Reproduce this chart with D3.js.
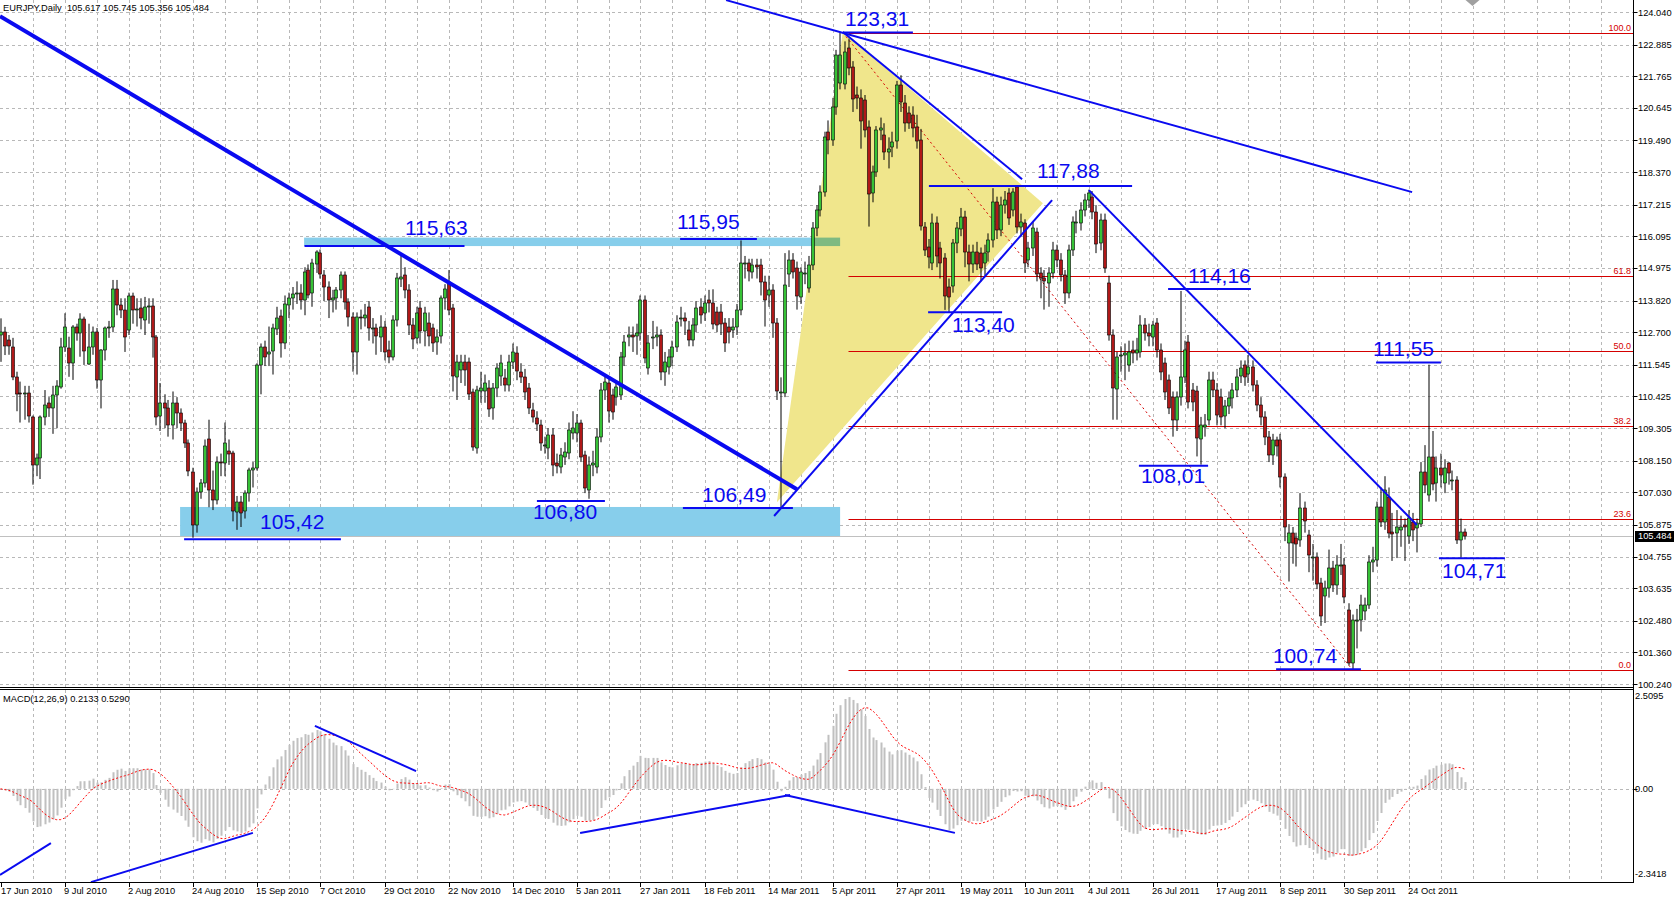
<!DOCTYPE html>
<html><head><meta charset="utf-8">
<script src="https://cdn.jsdelivr.net/npm/d3@7"></script>
<style>
body{margin:0;background:#fff;overflow:hidden}
svg{display:block}
text{font-family:"Liberation Sans",Arial,sans-serif}
</style></head>
<body><svg id="c" width="1674" height="898"></svg>
<script>
// ---------------- DATA ----------------
const headerText = "EURJPY,Daily  105.617 105.745 105.356 105.484";
const macdText = "MACD(12,26,9) 0.2133 0.5290";
const lastPrice = 105.484;

const opens = [
112.60,112.72,112.42,112.19,111.12,110.53,110.50,110.53,109.71,108.00,
108.25,109.71,110.18,110.00,110.47,110.79,112.19,112.13,111.60,112.89,
112.66,113.15,111.60,112.19,112.72,111.01,112.07,112.84,112.89,114.22,
113.66,113.48,112.78,113.98,113.51,113.54,113.15,113.60,113.63,112.54,
109.71,110.18,110.00,109.41,110.18,109.83,109.47,108.76,107.76,105.87,
107.03,107.35,108.90,107.11,106.76,108.11,108.06,108.50,108.41,106.35,
106.70,106.35,106.99,107.82,107.88,111.54,112.19,111.95,112.01,112.84,
113.27,112.33,113.66,113.90,114.05,114.08,113.84,114.90,114.08,115.14,
115.49,114.73,114.31,113.84,113.90,114.19,114.73,113.78,113.25,112.01,
113.25,113.19,113.60,112.84,112.84,112.54,112.90,112.07,111.83,113.13,
114.61,114.73,114.19,112.96,112.48,113.55,112.72,113.01,112.84,112.37,
112.54,113.90,114.49,113.55,111.13,111.36,111.66,111.66,110.59,108.59,
110.59,110.59,110.71,110.00,110.71,111.13,111.07,110.83,111.66,111.95,
111.30,111.13,110.71,109.95,109.65,109.42,108.71,108.59,109.06,108.06,
107.94,108.29,108.41,109.12,109.12,109.48,108.35,107.11,108.00,107.94,
109.00,110.65,110.89,110.48,110.42,110.48,111.83,112.54,112.60,112.54,
112.66,113.84,111.42,112.54,112.54,112.60,111.30,111.48,111.83,112.19,
113.19,113.19,112.78,112.42,112.96,113.60,113.37,113.84,113.72,113.43,
113.43,113.01,112.90,112.78,112.90,113.49,115.14,115.14,114.84,115.08,
115.08,114.49,114.02,114.19,113.01,110.59,110.54,114.78,115.26,114.96,
113.96,114.78,114.25,115.08,116.38,117.05,117.68,119.80,119.50,120.68,
121.51,121.51,122.75,122.10,121.10,120.98,120.92,119.98,117.62,118.38,
119.86,119.68,119.09,119.27,119.45,121.45,120.80,120.45,120.39,119.98,
119.50,116.44,115.73,115.14,116.56,115.67,115.32,114.31,114.31,115.85,
116.38,116.79,115.55,115.14,115.55,115.49,115.14,115.55,115.97,117.32,
116.32,117.20,117.62,117.03,117.85,116.44,116.56,115.26,115.67,116.26,
114.79,114.61,114.43,114.79,115.61,115.26,114.73,114.08,115.61,116.56,
116.56,117.03,117.38,117.50,116.97,115.85,116.67,114.43,112.60,110.71,
111.89,111.89,111.54,112.07,111.95,112.01,112.96,112.66,112.54,113.01,
112.07,111.60,111.01,110.42,109.59,110.42,111.13,112.37,110.66,110.60,
108.94,109.36,109.59,111.01,110.66,110.42,109.71,110.07,110.36,110.66,
111.13,111.54,111.24,111.48,110.83,110.12,109.71,109.00,108.35,108.88,
108.88,107.58,105.22,105.58,105.40,105.34,106.46,105.52,104.75,104.75,
103.81,103.34,103.63,104.34,103.75,104.46,104.46,102.86,100.97,102.51,
102.51,102.81,103.04,104.57,104.63,106.52,105.99,106.87,105.64,105.58,
105.69,105.87,105.46,105.99,105.75,105.93,107.76,106.93,108.29,107.35,
107.88,107.35,108.06,107.47,107.47,105.34,105.617];

const highs = [
113.19,112.89,112.60,112.50,111.30,110.95,110.80,110.80,109.75,108.40,
109.75,110.65,110.40,110.80,111.00,112.50,113.37,112.54,112.95,113.00,
113.37,113.25,113.00,112.90,112.85,112.10,112.90,113.10,114.55,114.55,
113.90,113.90,114.10,114.10,113.90,113.90,113.95,113.90,113.90,112.60,
110.90,110.50,110.30,110.60,110.40,110.00,109.60,108.90,107.90,107.20,
107.50,108.90,109.60,107.80,108.30,108.40,109.50,108.90,108.50,106.90,
106.90,107.10,107.90,108.10,111.60,112.30,112.40,112.90,113.00,113.60,
113.50,114.00,114.10,114.30,114.50,114.40,115.00,115.10,115.30,115.60,
115.63,114.90,114.50,114.20,114.30,114.85,114.85,113.90,113.40,113.40,
113.50,113.70,113.80,113.20,113.00,113.30,113.10,112.40,113.30,114.80,
115.40,115.00,114.40,113.20,113.60,113.80,113.60,113.40,113.00,112.80,
114.00,114.40,114.90,113.70,111.90,111.90,111.90,111.80,110.70,110.80,
111.30,111.20,111.00,110.90,111.60,111.90,111.40,111.90,112.30,112.20,
111.60,111.40,110.90,110.20,109.90,109.60,109.00,109.30,109.30,108.40,
108.60,108.80,109.50,109.90,109.80,109.60,108.50,108.30,108.50,109.30,
110.90,111.20,111.10,110.70,111.00,112.00,112.60,112.90,112.90,113.00,
114.00,114.00,112.60,113.10,112.90,112.80,112.00,112.10,112.40,113.30,
113.60,113.40,113.10,113.20,113.80,113.90,114.00,114.20,114.22,113.60,
113.70,113.20,113.20,113.20,113.70,115.95,115.40,115.30,115.30,115.30,
115.30,114.70,114.70,114.40,113.20,111.10,115.50,115.60,115.50,115.20,
115.00,115.20,115.40,116.60,117.20,117.90,119.80,120.20,121.00,122.70,
123.31,123.00,123.10,122.30,121.40,121.30,121.10,120.20,118.60,120.00,
120.30,120.10,119.60,119.80,121.60,121.80,121.10,120.70,120.70,120.40,
119.90,116.60,116.00,116.90,116.80,115.90,115.50,114.60,116.00,116.60,
117.10,117.00,115.80,115.80,115.90,115.70,115.80,116.20,117.80,117.50,
117.50,117.70,117.80,117.80,117.88,116.90,116.70,115.90,116.60,116.40,
115.00,114.90,115.00,115.90,115.80,115.50,114.90,115.80,116.80,117.00,
117.30,117.60,117.75,117.70,117.20,116.90,116.90,114.70,112.80,112.00,
112.20,112.30,112.40,112.40,112.50,113.30,113.20,113.00,113.10,113.20,
112.30,111.80,111.20,110.60,110.60,114.16,112.40,112.60,110.90,110.80,
109.70,109.80,111.30,111.30,110.90,110.70,110.30,110.60,110.90,111.40,
111.70,111.70,111.89,111.70,111.00,110.40,109.90,109.20,109.10,109.00,
109.10,107.70,105.90,105.80,105.60,107.00,106.70,105.70,105.20,104.90,
104.00,103.90,105.00,104.60,104.80,105.20,104.70,103.10,102.70,102.90,
103.40,103.30,104.80,105.10,106.70,107.20,107.60,107.20,106.30,106.40,
106.20,106.10,106.40,106.30,106.10,108.10,108.70,111.55,109.20,108.30,
108.40,108.20,108.10,107.80,107.60,106.10,105.745];

const lows = [
111.65,111.89,111.90,111.00,109.90,109.50,109.60,109.50,107.30,107.60,
107.50,109.40,109.70,109.10,109.30,110.70,112.00,111.12,111.01,112.40,
111.83,111.54,111.54,111.90,110.70,110.00,111.70,112.50,112.70,113.30,
113.20,112.00,112.60,113.00,112.90,112.80,112.60,113.00,111.80,109.40,
109.20,109.30,109.00,108.90,109.30,109.20,108.60,107.60,105.42,105.60,
106.80,107.20,106.50,106.40,106.60,107.60,107.60,108.00,106.00,105.70,
105.80,106.10,106.70,107.20,107.80,110.50,111.50,111.50,111.20,112.60,
111.80,112.10,113.20,113.50,113.70,113.50,113.30,113.90,113.60,114.80,
114.60,113.80,113.20,113.40,113.50,113.90,113.50,112.90,111.30,111.20,
112.80,112.90,112.40,112.30,111.90,112.00,111.70,111.60,111.70,112.90,
114.30,113.90,112.60,112.10,112.30,112.30,112.20,112.20,112.00,111.90,
112.30,113.50,113.30,110.60,110.30,110.90,110.80,110.30,108.50,108.40,
110.20,110.20,109.70,109.60,110.40,110.80,110.60,110.60,111.40,111.00,
110.90,110.30,109.80,109.50,109.20,108.50,108.40,108.20,107.60,107.70,
107.70,108.00,108.20,108.90,108.80,108.10,107.00,106.80,107.60,107.70,
108.80,110.30,109.50,109.60,110.10,110.30,111.50,112.20,112.00,111.90,
112.40,111.60,111.20,112.10,112.20,111.00,110.80,111.20,111.50,112.00,
112.90,112.60,112.20,112.20,112.70,113.00,113.10,113.40,112.80,112.70,
112.60,112.00,112.30,112.50,112.60,113.30,114.60,114.50,114.60,114.60,
114.00,112.90,113.60,112.50,110.30,106.49,110.40,114.30,114.60,113.50,
113.70,114.40,114.10,114.90,116.10,116.80,117.50,119.00,119.30,120.40,
121.30,121.30,121.80,120.50,120.60,119.20,119.60,116.44,117.30,118.20,
119.50,118.80,118.50,118.90,119.20,120.50,119.80,119.90,119.60,119.20,
116.30,115.40,114.96,114.90,115.00,114.60,113.49,113.40,114.10,115.50,
116.10,115.00,114.50,114.80,114.90,114.50,114.70,115.20,115.70,116.00,
116.10,116.90,116.50,116.80,116.20,116.10,114.80,115.00,115.40,114.50,
113.90,113.50,113.60,114.60,115.00,114.50,113.70,113.90,115.40,116.20,
116.30,116.80,117.10,116.70,115.50,115.60,114.80,112.40,109.60,109.60,
111.30,111.00,111.30,111.60,111.70,111.80,112.40,112.20,112.20,111.80,
111.00,110.30,109.80,109.00,109.20,110.10,110.90,110.00,109.90,108.30,
108.01,109.00,109.40,110.40,109.40,109.40,109.30,109.80,110.00,110.40,
110.90,110.80,110.90,110.60,109.90,109.40,108.70,108.10,108.00,108.30,
107.20,105.30,103.87,104.50,104.40,105.10,105.60,104.20,103.90,103.60,
102.30,102.40,103.30,103.50,103.40,104.10,103.10,100.90,100.74,101.50,
102.10,102.50,102.90,104.20,104.40,105.80,105.70,105.40,104.60,104.70,
105.10,104.60,105.20,105.30,104.90,105.80,107.00,106.70,107.10,106.70,
107.20,107.00,107.30,107.10,105.20,104.71,105.356];

const closes = [
112.72,112.24,112.19,111.12,110.53,110.50,110.53,109.71,108.00,108.25,
109.71,110.12,110.00,110.47,110.80,112.19,112.89,111.60,112.89,112.66,
113.15,112.01,112.19,112.72,111.01,112.07,112.84,112.89,114.22,113.66,
113.48,112.54,113.98,113.48,113.51,113.19,113.60,113.63,112.54,109.71,
110.18,110.00,109.41,110.18,109.83,109.47,108.76,107.76,105.87,107.03,
107.35,108.67,107.11,106.76,108.11,108.06,108.76,108.41,106.35,106.70,
106.32,106.99,107.82,107.88,111.54,112.19,111.83,112.01,112.84,113.22,
112.30,113.70,113.90,114.05,114.08,113.84,114.84,114.02,115.14,115.55,
114.73,114.31,113.84,113.90,114.19,114.73,113.78,113.25,112.01,113.25,
113.23,113.31,112.84,112.84,112.54,112.90,112.01,111.83,113.13,114.61,
114.67,114.19,112.96,112.48,113.37,112.72,113.37,112.54,112.31,112.54,
113.90,114.22,113.49,111.13,111.66,111.66,111.36,110.54,108.65,110.65,
110.71,110.89,109.95,110.71,111.42,111.60,110.83,111.66,112.01,111.30,
111.13,110.59,110.00,109.71,109.42,108.77,108.71,109.06,108.00,107.94,
108.35,108.47,109.24,109.30,109.48,108.29,107.17,108.00,108.06,109.00,
110.65,110.95,109.89,109.89,110.77,111.83,112.37,112.60,112.54,112.66,
113.84,111.78,112.31,112.54,112.60,111.30,111.66,111.83,112.19,113.07,
113.19,113.07,112.42,112.96,113.55,113.31,113.72,113.72,112.96,112.96,
113.01,112.31,112.72,112.90,113.49,115.14,115.14,114.84,115.08,115.02,
114.49,113.84,114.19,113.01,110.59,110.59,114.37,115.26,114.84,113.96,
114.84,114.78,115.08,116.38,117.03,117.68,119.62,119.50,120.68,122.51,
122.51,122.63,122.04,120.98,120.98,120.15,119.86,117.62,118.38,119.86,
119.92,119.09,119.20,119.45,121.45,120.86,120.09,120.09,119.92,119.50,
116.44,115.61,115.38,116.56,115.38,115.14,113.96,113.96,115.85,116.38,
116.79,115.55,115.14,115.55,115.14,114.96,115.49,115.97,117.32,116.32,
117.20,117.38,116.73,117.68,116.44,116.61,115.14,115.67,116.38,114.79,
114.61,114.50,114.79,115.61,115.26,114.73,114.08,115.61,116.61,116.61,
117.03,117.38,117.62,116.97,115.85,116.67,114.96,112.60,110.71,111.83,
111.89,111.95,112.01,111.95,112.07,112.96,112.66,112.54,112.96,112.07,
111.30,110.59,110.01,109.59,110.42,111.13,112.07,110.24,110.24,108.94,
109.42,109.42,111.01,110.66,109.77,109.71,110.07,110.36,110.66,111.13,
111.42,111.13,111.48,110.83,110.12,109.71,109.00,108.35,108.88,108.65,
107.58,105.81,105.58,105.22,105.17,106.46,105.99,104.81,104.75,103.81,
102.63,103.63,104.34,103.75,104.46,104.46,103.34,100.97,102.51,102.51,
103.04,103.04,104.57,104.63,106.52,105.99,107.11,105.58,105.58,105.81,
105.81,105.81,106.11,105.69,105.93,107.76,107.29,108.29,107.35,107.88,
107.64,107.88,107.70,107.47,105.34,105.64,105.484];

// date axis labels: [bar index, text]
const dateTicks = [[0,"17 Jun 2010"],[16,"9 Jul 2010"],[32,"2 Aug 2010"],[48,"24 Aug 2010"],
 [64,"15 Sep 2010"],[80,"7 Oct 2010"],[96,"29 Oct 2010"],[112,"22 Nov 2010"],[128,"14 Dec 2010"],
 [144,"5 Jan 2011"],[160,"27 Jan 2011"],[176,"18 Feb 2011"],[192,"14 Mar 2011"],[208,"5 Apr 2011"],
 [224,"27 Apr 2011"],[240,"19 May 2011"],[256,"10 Jun 2011"],[272,"4 Jul 2011"],[288,"26 Jul 2011"],
 [304,"17 Aug 2011"],[320,"8 Sep 2011"],[336,"30 Sep 2011"],[352,"24 Oct 2011"]];

const priceTicks = [124.040,122.885,121.765,120.645,119.490,118.370,117.215,116.095,114.975,113.820,
 112.700,111.545,110.425,109.305,108.150,107.030,105.875,104.755,103.635,102.480,101.360,100.240];
const macdTicks = [2.5095,0.00,-2.3418];

const fibLevels = [100.0,61.8,50.0,38.2,23.6,0.0];
const fibHigh = [210.6,123.31], fibLow = [338,100.74];

// trend lines in (bar, price): [b1,p1,b2,p2,width]
const trendLines = [
 [-0.125,123.89,199.1,107.14,4],
 [193.4,106.19,262.9,117.38,2],
 [210.6,123.33,255.4,118.12,2],
 [181.4,124.46,352.9,117.66,2],
 [272.1,117.73,354.1,105.87,2]];

// horizontal labelled levels: [text, bar1, bar2, price, labelBar, labelPrice]
const levelMarks = [
 ["123,31",210.6,228.1,123.31,211.1,123.54],
 ["117,88",232.1,282.9,117.88,259.1,118.16],
 ["115,63",76.0,116.0,115.75,101.1,116.14],
 ["115,95",169.9,189.1,116.00,169.1,116.35],
 ["105,42",45.9,85.1,105.37,64.9,105.73],
 ["106,80",134.1,151.1,106.72,133.1,106.08],
 ["106,49",170.6,198.1,106.47,175.4,106.68],
 ["113,40",231.9,250.4,113.41,237.9,112.70],
 ["114,16",291.9,312.6,114.23,296.9,114.44],
 ["108,01",284.6,301.9,107.97,285.1,107.36],
 ["111,55",343.9,360.1,111.63,343.1,111.85],
 ["104,71",359.6,376.1,104.69,360.4,103.99],
 ["100,74",318.9,340.1,100.76,318.1,100.98]];

// zones [bar1, bar2, priceTop, priceBottom]
const zones = [[75.9,209.9,116.05,115.75],[44.9,209.9,106.51,105.45]];
const triangle = [[194.1,106.68],[210.6,123.36],[260.6,117.27]];

// MACD panel trend lines [b1,v1,b2,v2]
const macdLines = [[-0.125,-2.19,12.6,-1.38],[22.6,-2.37,63.1,-1.12],[78.6,1.60,103.9,0.45],
 [144.9,-1.12,197.4,-0.16],[196.1,-0.16,238.6,-1.12]];

// ---------------- DRAW ----------------
const W=1674, H=898, axisX=1633.5;
const svg = d3.select("#c");
const x = d3.scaleLinear().domain([0,408]).range([0.5,1632.5]);
const y = d3.scaleLinear().domain([100.24,124.04]).range([684,12]);
const yM = d3.scaleLinear().domain([-2.3418,2.5095]).range([881,690]);
const BLUE="#0a0af0", GRID="#b8b8b8", FIB="#d40000";

const defs = svg.append("defs");
defs.append("clipPath").attr("id","cm").append("rect").attr("x",0).attr("y",0).attr("width",1633).attr("height",687);
defs.append("clipPath").attr("id","cd").append("rect").attr("x",0).attr("y",690).attr("width",1633).attr("height",192);

const main = svg.append("g").attr("clip-path","url(#cm)");
const mac = svg.append("g").attr("clip-path","url(#cd)");

// grid
const vgrid = d3.range(8,409,8);
[ [main,0,687], [mac,690,882] ].forEach(([g,a,b])=>{
  g.selectAll(null).data(vgrid).enter().append("line")
   .attr("x1",d=>Math.round(x(d))+0.5).attr("x2",d=>Math.round(x(d))+0.5)
   .attr("y1",a).attr("y2",b).attr("stroke",GRID).attr("stroke-dasharray","3,3").attr("stroke-width",1);
});
main.selectAll(null).data(priceTicks).enter().append("line")
  .attr("x1",0).attr("x2",1633).attr("y1",d=>Math.round(y(d))+0.5).attr("y2",d=>Math.round(y(d))+0.5)
  .attr("stroke",GRID).attr("stroke-dasharray","3,3");
mac.append("line").attr("x1",0).attr("x2",1633).attr("y1",Math.round(yM(0))+0.5).attr("y2",Math.round(yM(0))+0.5)
  .attr("stroke",GRID).attr("stroke-dasharray","3,3");

// background objects
const bg = main.append("g").style("isolation","isolate");
bg.append("path").attr("d",d3.line().x(d=>x(d[0])).y(d=>y(d[1]))(triangle)+"Z").attr("fill","#F0E68C");
bg.selectAll(null).data(zones).enter().append("rect")
  .attr("x",d=>x(d[0])).attr("width",d=>x(d[1])-x(d[0]))
  .attr("y",d=>y(d[2])).attr("height",d=>y(d[3])-y(d[2]))
  .attr("fill","#87CEEB").style("mix-blend-mode","multiply");

// fib levels
const fibP = l => fibLow[1] + (fibHigh[1]-fibLow[1])*l/100;
main.selectAll(null).data(fibLevels).enter().append("line")
  .attr("x1",x(212)).attr("x2",1633)
  .attr("y1",d=>Math.round(y(fibP(d)))+0.5).attr("y2",d=>Math.round(y(fibP(d)))+0.5)
  .attr("stroke",FIB).attr("stroke-width",1);
main.append("line").attr("x1",x(fibHigh[0])).attr("y1",y(fibHigh[1])).attr("x2",x(fibLow[0])).attr("y2",y(fibLow[1]))
  .attr("stroke",FIB).attr("stroke-width",1).attr("stroke-dasharray","2,3");
main.selectAll(null).data(fibLevels).enter().append("text")
  .attr("x",1631).attr("y",d=>Math.round(y(fibP(d)))-2).attr("text-anchor","end")
  .attr("font-size","9px").attr("fill",FIB).text(d=>d.toFixed(1));

// last price line
main.append("line").attr("x1",0).attr("x2",1633).attr("y1",Math.round(y(lastPrice))+0.5).attr("y2",Math.round(y(lastPrice))+0.5)
  .attr("stroke","#c0c0c0");

// candles
const idx = d3.range(closes.length);
const cg = main.append("g");
cg.selectAll(null).data(idx).enter().append("line")
  .attr("x1",i=>Math.round(x(i))).attr("x2",i=>Math.round(x(i)))
  .attr("y1",i=>y(highs[i])).attr("y2",i=>y(lows[i]))
  .attr("stroke","#000").attr("stroke-width",1);
cg.selectAll(null).data(idx).enter().append("rect")
  .attr("x",i=>Math.round(x(i))-1.5).attr("width",3)
  .attr("y",i=>Math.round(y(Math.max(opens[i],closes[i]))))
  .attr("height",i=>Math.max(1,Math.round(Math.abs(y(opens[i])-y(closes[i])))))
  .attr("fill",i=>closes[i]>=opens[i]?"#36c236":"#b01818")
  .attr("stroke","#000").attr("stroke-width",0.6);

// trend lines
main.selectAll(null).data(trendLines).enter().append("line")
  .attr("x1",d=>x(d[0])).attr("y1",d=>y(d[1])).attr("x2",d=>x(d[2])).attr("y2",d=>y(d[3]))
  .attr("stroke",BLUE).attr("stroke-width",d=>d[4]);
main.selectAll(null).data(levelMarks).enter().append("line")
  .attr("x1",d=>x(d[1])).attr("x2",d=>x(d[2])).attr("y1",d=>y(d[3])).attr("y2",d=>y(d[3]))
  .attr("stroke",BLUE).attr("stroke-width",2);
main.selectAll(null).data(levelMarks).enter().append("text")
  .attr("x",d=>x(d[4])).attr("y",d=>y(d[5])).attr("font-size","21px").attr("fill",BLUE).text(d=>d[0]);

// chart-shift marker
svg.append("path").attr("d",`M${x(366)+1},0 L${x(366)+15},0 L${x(366)+8},6 Z`).attr("fill","#a0a0a0");

// MACD
const ema = (arr,n)=>{const k=2/(n+1);let p=arr[0];return arr.map((v,i)=>(p=i?v*k+p*(1-k):v));};
const e12=ema(closes,12), e26=ema(closes,26);
const macd = closes.map((_,i)=>e12[i]-e26[i]);
const signal = macd.map((_,i)=>d3.mean(macd.slice(Math.max(0,i-8),i+1)));
mac.selectAll(null).data(idx).enter().append("rect")
  .attr("x",i=>Math.round(x(i))-0.5).attr("width",2)
  .attr("y",i=>Math.min(yM(0),yM(macd[i]))).attr("height",i=>Math.abs(yM(macd[i])-yM(0)))
  .attr("fill","#c0c0c0");
mac.append("path").datum(idx).attr("d",d3.line().x(i=>x(i)).y(i=>yM(signal[i])))
  .attr("fill","none").attr("stroke","#ff0000").attr("stroke-width",1).attr("stroke-dasharray","2,2");
mac.selectAll(null).data(macdLines).enter().append("line")
  .attr("x1",d=>x(d[0])).attr("y1",d=>yM(d[1])).attr("x2",d=>x(d[2])).attr("y2",d=>yM(d[3]))
  .attr("stroke",BLUE).attr("stroke-width",2);

// frames
svg.append("line").attr("x1",0).attr("x2",axisX).attr("y1",687.5).attr("y2",687.5).attr("stroke","#000");
svg.append("line").attr("x1",0).attr("x2",axisX).attr("y1",689.5).attr("y2",689.5).attr("stroke","#000");
svg.append("line").attr("x1",0).attr("x2",axisX).attr("y1",882.5).attr("y2",882.5).attr("stroke","#000");
svg.append("line").attr("x1",axisX).attr("x2",axisX).attr("y1",0).attr("y2",883).attr("stroke","#000");

// price axis
const ax = svg.append("g");
ax.selectAll(null).data(priceTicks).enter().append("line")
  .attr("x1",axisX).attr("x2",axisX+4).attr("y1",d=>Math.round(y(d))+0.5).attr("y2",d=>Math.round(y(d))+0.5).attr("stroke","#000");
ax.selectAll(null).data(priceTicks).enter().append("text")
  .attr("x",1638).attr("y",d=>y(d)+3.5).attr("font-size","9.3px").attr("fill","#000").text(d=>d.toFixed(3));
// last price tag
ax.append("rect").attr("x",1635).attr("y",Math.round(y(lastPrice))-5).attr("width",39).attr("height",11).attr("fill","#000");
ax.append("text").attr("x",1638).attr("y",y(lastPrice)+3.5).attr("font-size","9.3px").attr("fill","#fff").text(lastPrice.toFixed(3));
// macd axis
ax.selectAll(null).data(macdTicks).enter().append("text")
  .attr("x",1635).attr("y",d=>Math.min(Math.max(yM(d)+3.5,699),877)).attr("font-size","9.3px").attr("fill","#000")
  .text(d=>d===0?"0.00":String(d));
ax.append("line").attr("x1",axisX).attr("x2",axisX+4).attr("y1",Math.round(yM(0))+0.5).attr("y2",Math.round(yM(0))+0.5).attr("stroke","#000");

// time axis
ax.selectAll(null).data(dateTicks).enter().append("line")
  .attr("x1",d=>Math.round(x(d[0]))+0.5).attr("x2",d=>Math.round(x(d[0]))+0.5).attr("y1",883).attr("y2",887).attr("stroke","#000");
ax.selectAll(null).data(dateTicks).enter().append("text")
  .attr("x",d=>Math.max(1,x(d[0])-0.5)).attr("y",894).attr("font-size","9.3px").attr("fill","#000").text(d=>d[1]);

// header texts
svg.append("text").attr("x",3).attr("y",11).attr("font-size","9.3px").attr("fill","#000").style("white-space","pre").text(headerText);
svg.append("text").attr("x",3).attr("y",702).attr("font-size","9.3px").attr("fill","#000").text(macdText);
</script>
</body></html>
